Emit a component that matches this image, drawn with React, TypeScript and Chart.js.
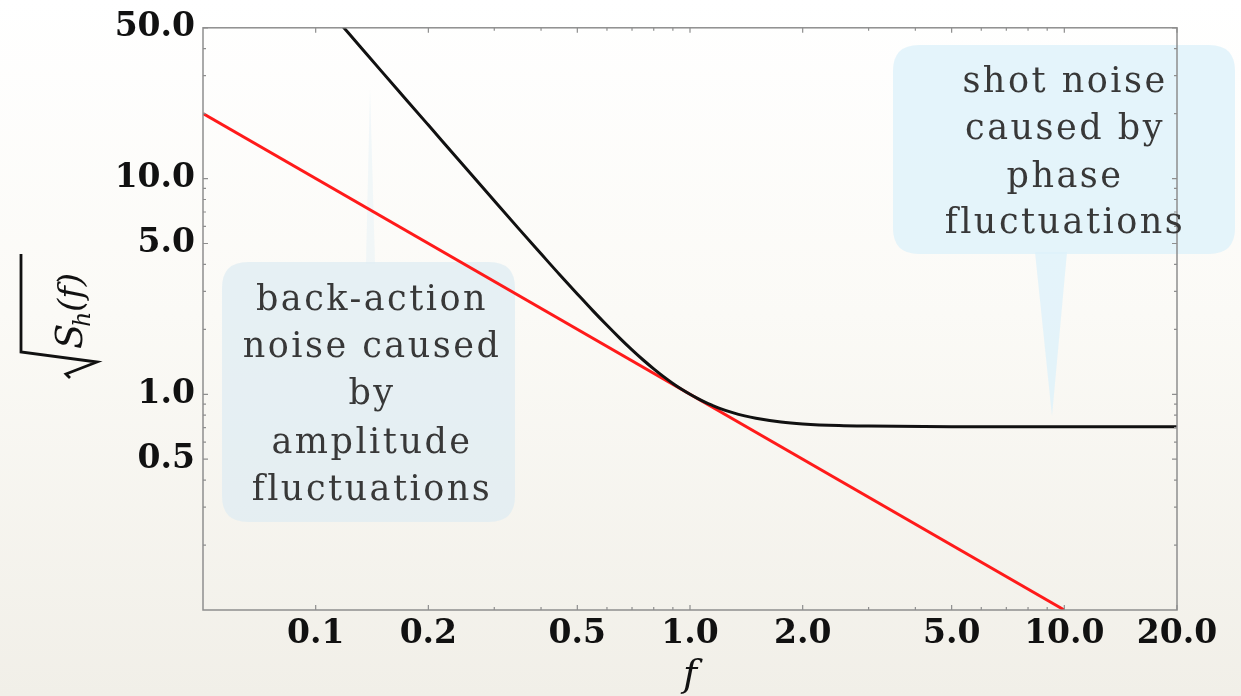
import React, { useEffect, useRef } from "react";
import { Chart, registerables } from "chart.js";

Chart.register(...registerables);

// Frequency samples (f) and the total noise curve sqrt(S_h(f)) read at each
const freqs = [
  0.118, 0.13, 0.15, 0.175, 0.2, 0.25, 0.3, 0.35, 0.4, 0.45, 0.5, 0.55, 0.6,
  0.65, 0.7, 0.75, 0.8, 0.85, 0.9, 0.95, 1.0, 1.05, 1.1, 1.15, 1.2, 1.3, 1.4,
  1.5, 1.75, 2, 2.5, 3, 5, 10, 20,
];
const totalNoise = [
  50.8, 41.85, 31.4, 23.1, 17.7, 11.34, 7.89, 5.815, 4.48, 3.563, 2.92, 2.442,
  2.088, 1.817, 1.607, 1.442, 1.312, 1.207, 1.123, 1.055, 1.0, 0.955, 0.917,
  0.887, 0.861, 0.822, 0.794, 0.774, 0.744, 0.729, 0.716, 0.712, 0.708, 0.707,
  0.707,
];

// Standard quantum limit line (straight in log-log)
const sqlFreqs = [0.05, 10];
const sqlValues = [20, 0.1];

// Axis ranges and ticks
const xRange = [0.05, 20];
const yRange = [0.1, 50];
const xMajorTicks = [0.1, 0.2, 0.5, 1, 2, 5, 10, 20];
const xMinorTicks = [0.3, 0.4, 0.6, 0.7, 0.8, 0.9, 3, 4, 6, 7, 8, 9];
const yMajorTicks = [0.5, 1, 5, 10, 50];
const yMinorTicks = [0.2, 0.3, 0.4, 0.6, 0.7, 0.8, 0.9, 2, 3, 4, 6, 7, 8, 9, 20, 30, 40];

const leftNote = ["back-action", "noise caused", "by", "amplitude", "fluctuations"];
const rightNote = ["shot noise", "caused by", "phase", "fluctuations"];

const SERIF = '"DejaVu Serif", "Liberation Serif", serif';

function roundRect(ctx: CanvasRenderingContext2D, x: number, y: number, w: number, h: number, r: number) {
  ctx.beginPath();
  ctx.moveTo(x + r, y);
  ctx.lineTo(x + w - r, y);
  ctx.quadraticCurveTo(x + w, y, x + w, y + r);
  ctx.lineTo(x + w, y + h - r);
  ctx.quadraticCurveTo(x + w, y + h, x + w - r, y + h);
  ctx.lineTo(x + r, y + h);
  ctx.quadraticCurveTo(x, y + h, x, y + h - r);
  ctx.lineTo(x, y + r);
  ctx.quadraticCurveTo(x, y, x + r, y);
  ctx.closePath();
}

const decorations = {
  id: "decorations",
  beforeDatasetsDraw(chart: any) {
    const ctx: CanvasRenderingContext2D = chart.ctx;
    ctx.save();
    // left callout with its faint pointer
    ctx.fillStyle = "rgba(214,236,246,0.3)";
    ctx.beginPath();
    ctx.moveTo(366, 264);
    ctx.lineTo(375, 264);
    ctx.lineTo(370, 88);
    ctx.closePath();
    ctx.fill();
    ctx.fillStyle = "rgba(222,236,243,0.72)";
    roundRect(ctx, 222, 262, 293, 260, 26);
    ctx.fill();
    // right callout with pointer
    ctx.fillStyle = "rgba(222,241,250,0.82)";
    roundRect(ctx, 893, 45, 342, 209, 26);
    ctx.fill();
    ctx.beginPath();
    ctx.moveTo(1035, 252);
    ctx.lineTo(1067, 252);
    ctx.lineTo(1052, 416);
    ctx.closePath();
    ctx.fill();
    ctx.restore();
  },
  afterDatasetsDraw(chart: any) {
    const ctx: CanvasRenderingContext2D = chart.ctx;
    const { left, right, top, bottom } = chart.chartArea;
    const xs = chart.scales.x;
    const ys = chart.scales.y;
    ctx.save();
    // frame
    ctx.strokeStyle = "#8e8e8e";
    ctx.lineWidth = 1.5;
    ctx.strokeRect(left, top, right - left, bottom - top);
    // inward tick marks on all four sides
    ctx.lineWidth = 1.2;
    const xTick = (v: number, len: number) => {
      const px = xs.getPixelForValue(v);
      ctx.beginPath();
      ctx.moveTo(px, bottom);
      ctx.lineTo(px, bottom - len);
      ctx.moveTo(px, top);
      ctx.lineTo(px, top + len);
      ctx.stroke();
    };
    const yTick = (v: number, len: number) => {
      const py = ys.getPixelForValue(v);
      ctx.beginPath();
      ctx.moveTo(left, py);
      ctx.lineTo(left + len, py);
      ctx.moveTo(right, py);
      ctx.lineTo(right - len, py);
      ctx.stroke();
    };
    xMajorTicks.forEach((v) => xTick(v, 5));
    xMinorTicks.forEach((v) => xTick(v, 3));
    yMajorTicks.forEach((v) => yTick(v, 5));
    yMinorTicks.forEach((v) => yTick(v, 3));

    // callout texts
    ctx.fillStyle = "#383838";
    ctx.font = `35px ${SERIF}`;
    ctx.textAlign = "center";
    ctx.textBaseline = "alphabetic";
    (ctx as any).letterSpacing = "2.5px";
    const leftBase = [310, 357, 404, 453, 500];
    leftNote.forEach((t, i) => ctx.fillText(t, 372, leftBase[i]));
    const rightBase = [92, 139, 187, 233];
    rightNote.forEach((t, i) => ctx.fillText(t, 1065, rightBase[i]));
    (ctx as any).letterSpacing = "0px";

    // x-axis title
    ctx.fillStyle = "#111";
    ctx.font = `italic 38px ${SERIF}`;
    ctx.fillText("f", 690, 686);

    // y-axis title: sqrt(S_h(f)) drawn rotated
    ctx.translate(0, 380);
    ctx.rotate(-Math.PI / 2);
    ctx.strokeStyle = "#111";
    ctx.lineWidth = 2.8;
    ctx.lineJoin = "miter";
    ctx.beginPath();
    ctx.moveTo(2, 70);
    ctx.lineTo(6, 66);
    ctx.lineTo(18, 97);
    ctx.lineTo(28, 21);
    ctx.lineTo(126, 21);
    ctx.stroke();
    ctx.textAlign = "left";
    ctx.font = `italic 37px ${SERIF}`;
    ctx.fillText("S", 31, 82);
    ctx.font = `italic 24px ${SERIF}`;
    ctx.fillText("h", 53, 90);
    ctx.font = `italic 34px ${SERIF}`;
    ctx.fillText("(f)", 68, 82);
    ctx.restore();
  },
};

export default function App() {
  const ref = useRef<HTMLCanvasElement | null>(null);

  useEffect(() => {
    if (!ref.current) return;
    const chart = new Chart(ref.current, {
      type: "line",
      data: {
        datasets: [
          {
            label: "total",
            data: freqs.map((f, i) => ({ x: f, y: totalNoise[i] })),
            borderColor: "#111111",
            borderWidth: 3,
            pointRadius: 0,
            cubicInterpolationMode: "monotone",
          },
          {
            label: "SQL",
            data: sqlFreqs.map((f, i) => ({ x: f, y: sqlValues[i] })),
            borderColor: "#ff1a1a",
            borderWidth: 3,
            pointRadius: 0,
          },
        ],
      },
      options: {
        responsive: false,
        animation: false,
        layout: { padding: { top: 25, right: 64, bottom: 0, left: 0 } },
        plugins: { legend: { display: false }, tooltip: { enabled: false } },
        scales: {
          x: {
            type: "logarithmic",
            min: xRange[0],
            max: xRange[1],
            grid: { display: false, drawTicks: false },
            border: { display: false },
            afterBuildTicks: (s: any) => {
              s.ticks = xMajorTicks.map((v) => ({ value: v }));
            },
            afterFit: (s: any) => {
              s.height = 86;
            },
            ticks: {
              autoSkip: false,
              maxRotation: 0,
              padding: 5,
              color: "#111",
              font: { family: SERIF, size: 33, weight: "bold" },
              callback: (v: any) => Number(v).toFixed(1),
            },
          },
          y: {
            type: "logarithmic",
            min: yRange[0],
            max: yRange[1],
            grid: { display: false, drawTicks: false },
            border: { display: false },
            afterBuildTicks: (s: any) => {
              s.ticks = yMajorTicks.map((v) => ({ value: v }));
            },
            afterFit: (s: any) => {
              s.width = 203;
            },
            ticks: {
              autoSkip: false,
              padding: 8,
              color: "#111",
              font: { family: SERIF, size: 33, weight: "bold" },
              callback: (v: any) => Number(v).toFixed(1),
            },
          },
        },
      },
      plugins: [decorations],
    } as any);
    return () => chart.destroy();
  }, []);

  return (
    <div
      style={{
        position: "absolute",
        left: 0,
        top: 0,
        width: 1241,
        height: 696,
        background: "linear-gradient(to bottom, #ffffff 0%, #fbfaf6 45%, #f1efe8 100%)",
      }}
    >
      <canvas ref={ref} width={1241} height={696} style={{ display: "block" }} />
    </div>
  );
}
